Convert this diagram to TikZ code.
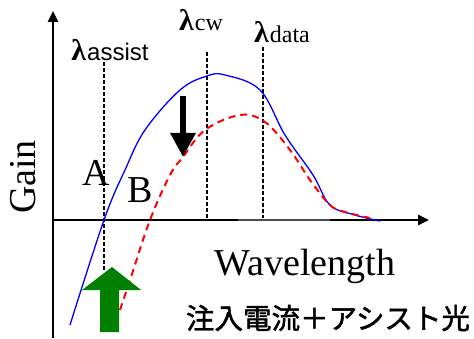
\documentclass[tikz,border=0pt]{standalone}
\usepackage{fontspec}
\setmainfont{Liberation Serif}
\newfontfamily\assistfont{Liberation Sans}
\newfontfamily\cjk[FakeBold=1.6]{Noto Sans CJK JP}
\usetikzlibrary{arrows.meta}
\newcommand{\lam}{{\fontsize{30}{30}\selectfont\bfseries λ}}
\tikzset{
  axisline/.style={line width=2.6pt,-{Triangle[length=11pt,width=10pt]}},
  markline/.style={line width=1.8pt,dash pattern=on 4pt off 2pt},
  biglabel/.style={font=\fontsize{38}{40}\selectfont,inner sep=0pt},
  lamlabel/.style={font=\fontsize{24}{26}\selectfont,inner sep=0pt,anchor=base}
}
\begin{document}
\begin{tikzpicture}[x=1pt,y=1pt]
        \useasboundingbox (0,0) rectangle (474,338);
        % line
        \coordinate (O) at (53,118);\coordinate (ytop) at (53,327);\coordinate (ybot) at (53,0);\coordinate (xend) at (429,118);
        \draw [axisline] (ybot) -- (ytop);
        \draw [axisline] (O) -- (xend);
        \coordinate (g1) at (238,118);\coordinate (g2) at (330,118);
        \draw [line width=2.6pt,black!70] (g1) -- (g2);
        % marker
        \coordinate (as1) at (104,276);\coordinate (as2) at (104,68);
        \coordinate (cw1) at (207,286);\coordinate (cw2) at (207,120);
        \coordinate (da1) at (263,291);\coordinate (da2) at (263,120);
        \draw [markline] (as1) -- (as2);\draw [markline] (cw1) -- (cw2);\draw [markline] (da1) -- (da2);
        % lecter
        \node [lamlabel] (lassist) at (110,277) {\lam\kern1pt{\assistfont assist}};
        \node [lamlabel] (lcw) at (201,307) {\lam\kern1pt cw};
        \node [lamlabel] (ldata) at (282,295) {\lam\kern1pt data};
        \node [biglabel] (A) at (96,165) {A};
        \node [biglabel] (B) at (140,148) {B};
        \node [biglabel,rotate=90] (gain) at (23,161) {Gain};
        \node [biglabel] (wave) at (305,72) {Wavelength};
        \node [font=\cjk\fontsize{28.5}{30}\selectfont,inner sep=0pt] (inj) at (328,20) {注入電流＋アシスト光};
        % curve
        \draw [blue,line width=1.3pt] plot [smooth,tension=0.6] coordinates {(70,13) (104,118) (125,168) (145,208) (180,248) (207,262) (225,263) (260,248) (285,203) (313,163) (330,133) (355,123) (380,117)};
        \draw [red,line width=2pt,dash pattern=on 7pt off 5pt] plot [smooth,tension=0.6] coordinates {(120,28) (131,61) (150,118) (170,163) (183,181) (205,208) (240,223) (265,216) (290,188) (310,158) (330,133) (345,126) (370,120)};
        % arrow
        \coordinate (dtop) at (183,242);\coordinate (dtip) at (183,181);
        \draw [line width=6pt,-{Triangle[length=24pt,width=24pt]}] (dtop) -- (dtip);
        \coordinate (gbot) at (110,6);\coordinate (gtip) at (112,71);
        \fill [green!50!black] (100,6) -- (100,48) -- (82,48) -- (gtip) -- (141,48) -- (119,48) -- (119,6) -- cycle;
    \end{tikzpicture}
\end{document}
